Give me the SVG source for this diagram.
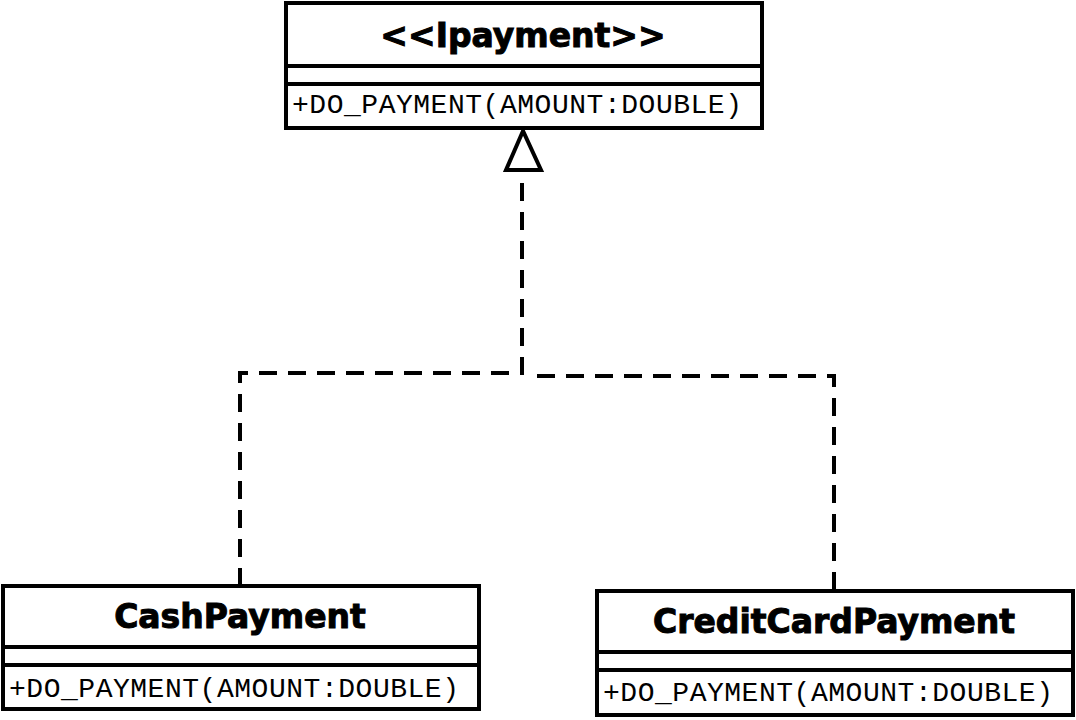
<svg xmlns="http://www.w3.org/2000/svg" width="1076" height="720" viewBox="0 0 1076 720">
<style>
.box{fill:#fff;stroke:#000;stroke-width:4}
.div{stroke:#000;stroke-width:4}
.title{font-family:"DejaVu Sans",Verdana,sans-serif;font-weight:bold;font-size:33px;fill:#000;stroke:#000;stroke-width:1;text-anchor:middle}
.meth{font-family:'Liberation Mono','Courier New',Courier,monospace;font-size:28px;fill:#000}
.conn{fill:none;stroke:#000;stroke-width:4;stroke-dasharray:18 11}
.arrow{fill:#fff;stroke:#000;stroke-width:4;stroke-linejoin:miter}
</style>
<rect width="1076" height="720" fill="#fff"/>
<g id="connectors">
<path class="conn" d="M240,586 V373 H522 V170"/>
<path class="conn" d="M834,590 V376 H536"/>
<polygon class="arrow" points="523,131 506,170 541,170"/>
</g>
<g id="Ipayment">
<rect class="box" x="286" y="3" width="476" height="125"/>
<line class="div" x1="286" y1="66" x2="762" y2="66"/>
<line class="div" x1="286" y1="84" x2="762" y2="84"/>
<text class="title" x="523" y="47">&lt;&lt;Ipayment&gt;&gt;</text>
<text class="meth" font-family="Liberation Mono" x="292" y="113" textLength="450" lengthAdjust="spacing">+DO_PAYMENT(AMOUNT:DOUBLE)</text>
</g>
<g id="CashPayment">
<rect class="box" x="3" y="586" width="476" height="123"/>
<line class="div" x1="3" y1="647" x2="479" y2="647"/>
<line class="div" x1="3" y1="665" x2="479" y2="665"/>
<text class="title" x="240" y="628">CashPayment</text>
<text class="meth" font-family="Liberation Mono" x="9" y="697" textLength="450" lengthAdjust="spacing">+DO_PAYMENT(AMOUNT:DOUBLE)</text>
</g>
<g id="CreditCardPayment">
<rect class="box" x="597" y="591" width="476" height="124"/>
<line class="div" x1="597" y1="652" x2="1073" y2="652"/>
<line class="div" x1="597" y1="670" x2="1073" y2="670"/>
<text class="title" x="834" y="633">CreditCardPayment</text>
<text class="meth" font-family="Liberation Mono" x="603" y="701" textLength="450" lengthAdjust="spacing">+DO_PAYMENT(AMOUNT:DOUBLE)</text>
</g>
</svg>
